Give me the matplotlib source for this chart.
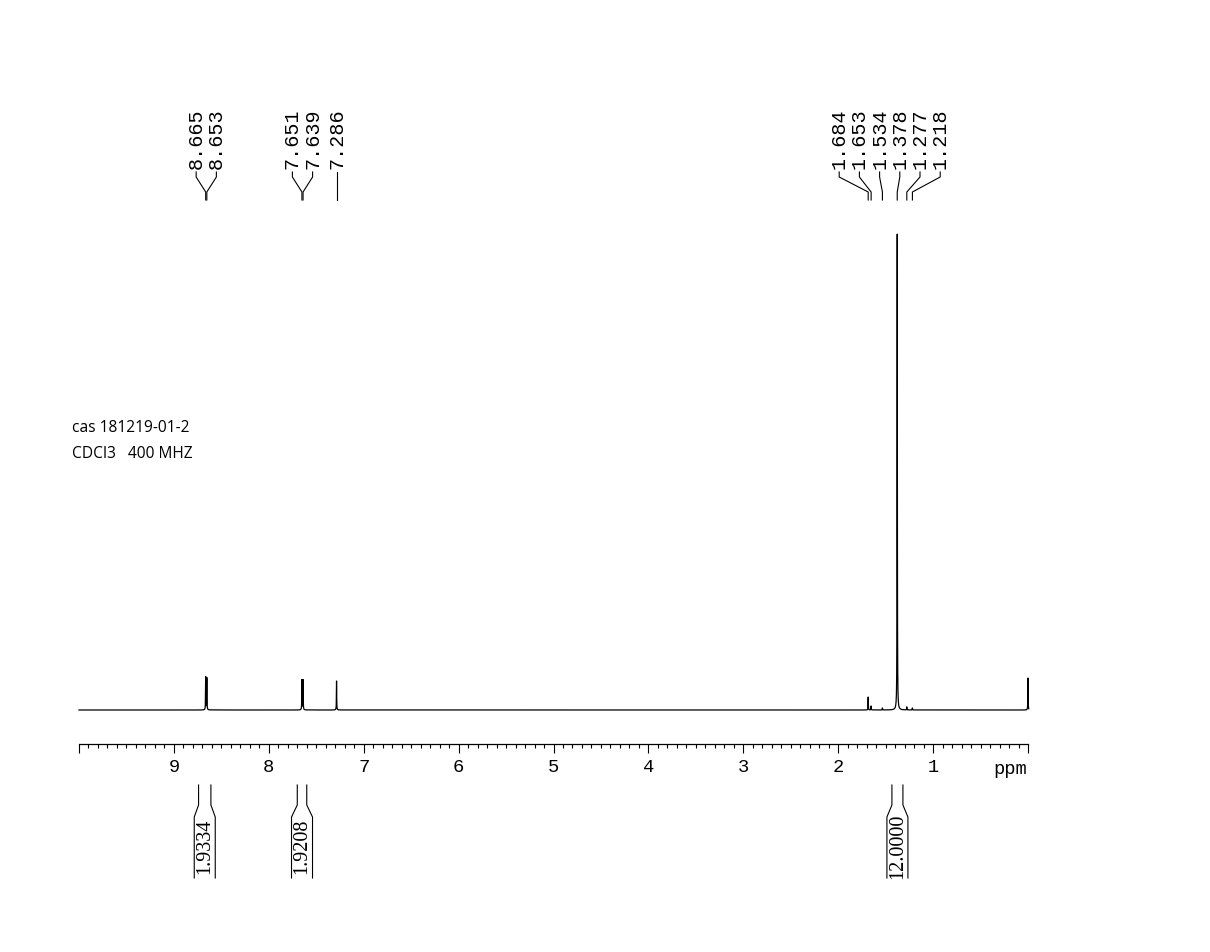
import numpy as np
import matplotlib
matplotlib.use("Agg")
import matplotlib.pyplot as plt
from matplotlib.transforms import blended_transform_factory

# peak list (ppm, height in px above baseline)
peak_ppm = [8.665, 8.653, 7.651, 7.639, 7.286, 1.684, 1.653, 1.534, 1.378, 1.277, 1.218, 0.000]
peak_height = [33, 32, 30, 30, 29, 13, 4, 2, 478, 3, 2, 32]

# labelled peaks (top)
label_ppm = [8.665, 8.653, 7.651, 7.639, 7.286, 1.684, 1.653, 1.534, 1.378, 1.277, 1.218]

# integrals: (start ppm, end ppm, value)
integral_start = [8.74, 7.70, 1.434]
integral_end = [8.61, 7.60, 1.318]
integral_text = ["1.9334", "1.9208", "12.0000"]

major_ticks = list(range(0, 11))
major_labels = ["", "1", "2", "3", "4", "5", "6", "7", "8", "9", ""]

W, H = 1210, 952
fig = plt.figure(figsize=(W / 100, H / 100), dpi=100)

# spectrum axes: x 79..1028 px, y 233..744 px
ax = fig.add_axes([79 / W, 1 - 744 / H, (1028 - 79) / W, (744 - 233) / H])

x = np.linspace(-0.008, 10.0, 40000)
hw = 0.0016
y = np.zeros_like(x)
for p, h in zip(peak_ppm, peak_height):
    y += h * hw**2 / ((x - p)**2 + hw**2)
ax.plot(x, y, color="black", lw=0.9, clip_on=False)

ax.set_xlim(10, 0)
ax.set_ylim(-34, 477)
for s in ["top", "left", "right"]:
    ax.spines[s].set_visible(False)
ax.spines["bottom"].set_linewidth(0.9)
ax.set_yticks([])
ax.set_xticks(major_ticks)
ax.set_xticklabels(major_labels)
ax.set_xticks(np.arange(0, 10.01, 0.1), minor=True)
ax.tick_params(axis="x", which="major", length=6.5, width=0.8, pad=4,
               labelsize=13.5)
ax.tick_params(axis="x", which="minor", length=3, width=0.8)
for lab in ax.get_xticklabels():
    lab.set_family("Liberation Mono")

tr = blended_transform_factory(ax.transData, fig.transFigure)


def fy(py):
    return 1 - py / H


ax.text(0.19, fy(761), "ppm", transform=tr, family="Liberation Mono",
        fontsize=13.5, ha="center", va="top")

# spread peak labels into groups
ppm_per_px = 10 / (1028 - 79)
spacing = 20.2 * ppm_per_px
groups = [[label_ppm[0]]]
for p in label_ppm[1:]:
    if groups[-1][-1] - p < spacing:
        groups[-1].append(p)
    else:
        groups.append([p])
for g in groups:
    c = np.mean(g)
    n = len(g)
    for i, p in enumerate(g):
        lx = c + ((n - 1) / 2 - i) * spacing
        ax.plot([lx, lx, p, p], [fy(172), fy(177), fy(192), fy(200)],
                transform=tr, color="black", lw=0.8, clip_on=False)
        ax.text(lx, fy(169), f"{p:.3f}", transform=tr, rotation=90,
                ha="center", va="bottom", family="Liberation Mono",
                fontsize=14.5)

# integral brackets
box_half = 10.5 * ppm_per_px
for a, b, t in zip(integral_start, integral_end, integral_text):
    c = (a + b) / 2
    for edge, side in [(a, 1), (b, -1)]:
        ax.plot([edge, edge, c + side * box_half, c + side * box_half],
                [fy(785), fy(805), fy(817), fy(878)],
                transform=tr, color="black", lw=0.8, clip_on=False)
    ax.text(c, fy(846), t, transform=tr, rotation=90, ha="center",
            va="center", family="Liberation Serif", fontsize=14.5)

fig.text(72 / W, fy(428), "cas 181219-01-2", family="Open Sans",
         fontsize=11.2, ha="left", va="center")
fig.text(72 / W, fy(454), "CDCl3   400 MHZ", family="Open Sans",
         fontsize=11.2, ha="left", va="center")

fig.savefig("out.png", dpi=100)
